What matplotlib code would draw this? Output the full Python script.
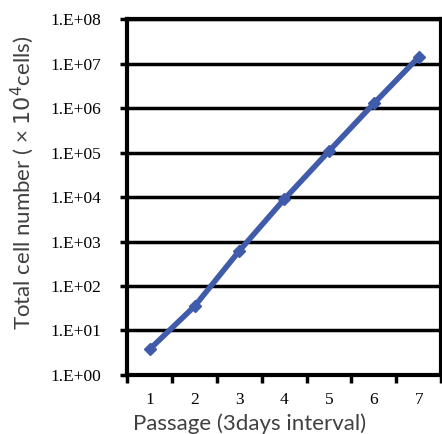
import matplotlib.pyplot as plt
import numpy as np

passage = [1, 2, 3, 4, 5, 6, 7]
cells = [3.8, 35, 620, 8900, 1.08e5, 1.27e6, 1.4e7]
ytick_labels = ["1.E+00", "1.E+01", "1.E+02", "1.E+03", "1.E+04",
                "1.E+05", "1.E+06", "1.E+07", "1.E+08"]

fig = plt.figure(figsize=(4.42, 4.34), dpi=100)
ax = fig.add_axes([0.288, 0.136, 0.71, 0.82])

ax.plot(passage, cells, color="#3F5BA9", lw=4, marker="D", ms=6,
        solid_capstyle="round", zorder=3)

ax.set_yscale("log")
ax.set_ylim(1, 1e8)
ax.set_xlim(0.5, 7.5)

yt = [10.0 ** i for i in range(9)]
ax.set_yticks(yt)
ax.set_yticklabels(ytick_labels, family="Liberation Serif", fontsize=12.5)
ax.yaxis.set_minor_locator(plt.NullLocator())
for y in yt[1:]:
    ax.axhline(y, color="black", lw=2.5, zorder=1)

ax.set_xticks(np.arange(0.5, 8, 1))
ax.set_xticklabels([])
ax.set_xticks(passage, minor=True)
ax.set_xticklabels([str(p) for p in passage], minor=True,
                   family="Liberation Serif", fontsize=12.5)
ax.tick_params(axis="x", which="major", length=6, width=2.5, direction="out")
ax.tick_params(axis="x", which="minor", length=0, pad=12)
ax.tick_params(axis="y", length=5, width=2.5, direction="out", pad=14)

for s in ax.spines.values():
    s.set_linewidth(3)

xl = ax.set_xlabel("Passage (3days interval)", family="Lato", fontsize=16, color="#404040")
xl.set_va("top")
ax.xaxis.set_label_coords(0.389, -0.108)
yl = ax.set_ylabel("Total cell number ( \u00d7 $10^4$cells)", family="Lato", fontsize=16,
                   color="#404040")
yl.set_va("center")
ax.yaxis.set_label_coords(-0.334, 0.539)

fig.savefig("out.png", dpi=100)
